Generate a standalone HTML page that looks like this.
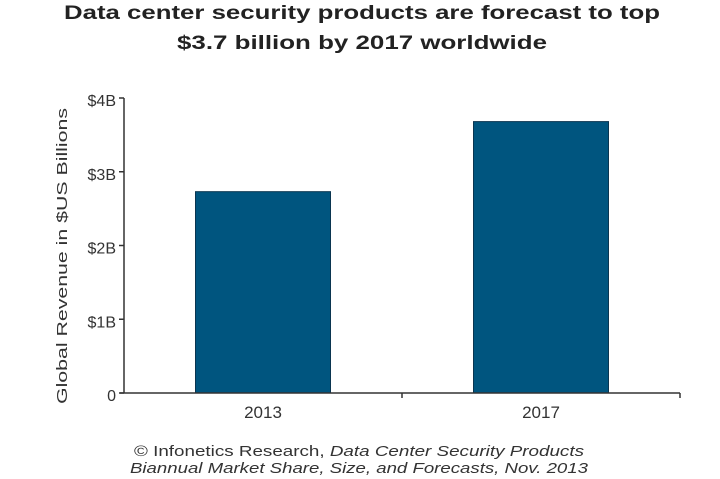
<!DOCTYPE html>
<html><head><meta charset="utf-8"><style>
body{margin:0;background:#fff;font-family:"Liberation Sans",Arial,sans-serif;}
svg{display:block}
</style></head><body>
<svg width="720" height="479">
<text x="362" y="19" text-anchor="middle" font-size="19" font-weight="bold" fill="#222" textLength="596" lengthAdjust="spacingAndGlyphs">Data center security products are forecast to top</text>
<text x="362" y="49" text-anchor="middle" font-size="19" font-weight="bold" fill="#222" textLength="370" lengthAdjust="spacingAndGlyphs">$3.7 billion by 2017 worldwide</text>
<g id="plot"></g>
<text transform="translate(67,256) rotate(-90)" text-anchor="middle" font-size="15" fill="#333" textLength="296" lengthAdjust="spacingAndGlyphs">Global Revenue in $US Billions</text>
<text x="359" y="456" text-anchor="middle" font-size="15" fill="#333" textLength="450" lengthAdjust="spacingAndGlyphs">© Infonetics Research, <tspan font-style="italic">Data Center Security Products</tspan></text>
<text x="359" y="473" text-anchor="middle" font-size="15" fill="#333" font-style="italic" textLength="458" lengthAdjust="spacingAndGlyphs">Biannual Market Share, Size, and Forecasts, Nov. 2013</text>
</svg>
<script>
const categories = ["2013", "2017"];
const values = [2.73, 3.68];
const tickValues = [0, 1, 2, 3, 4];
const tickLabels = ["0", "$1B", "$2B", "$3B", "$4B"];
const NS = "http://www.w3.org/2000/svg";
const g = document.getElementById("plot");
const x0 = 124, x1 = 680, yBase = 393, yTop = 98, vMax = 4;
const y = v => yBase - (v / vMax) * (yBase - yTop);
const band = (x1 - x0) / categories.length;
const xc = i => x0 + band * (i + 0.5);
const barW = 135;
function mk(tag, attrs) { const e = document.createElementNS(NS, tag); for (const k in attrs) e.setAttribute(k, attrs[k]); g.appendChild(e); return e; }
values.forEach((v, i) => {
  const r = mk("rect", { x: xc(i) - barW / 2, y: y(v), width: barW, height: yBase - y(v), fill: "#00557f", stroke: "#0a3550", "stroke-width": 1 });
  
  
  const t = mk("text", { x: xc(i), y: yBase + 25, "text-anchor": "middle", "font-size": 17, fill: "#333" });
  t.textContent = categories[i];
  
  
});
const ya = mk("line", { x1: x0, y1: yTop, x2: x0, y2: yBase, stroke: "#333", "stroke-width": 1.5 });


const xa = mk("line", { x1: x0 - 4, y1: yBase, x2: x1, y2: yBase, stroke: "#333", "stroke-width": 1.5 });


for (let i = 1; i <= categories.length; i++) {
  const te = mk("line", { x1: x0 + band * i, y1: yBase, x2: x0 + band * i, y2: yBase + 5, stroke: "#333", "stroke-width": 1.5 });
  
  
}
tickValues.forEach((v, i) => {
  const l = mk("line", { x1: x0 - 5, y1: y(v), x2: x0, y2: y(v), stroke: "#333", "stroke-width": 1.5 });
  
  
  const t = mk("text", { x: x0 - 8, y: y(v) + 8, "text-anchor": "end", "font-size": 16, fill: "#333" });
  t.textContent = tickLabels[i];
  
  
});
</script>
</body></html>
